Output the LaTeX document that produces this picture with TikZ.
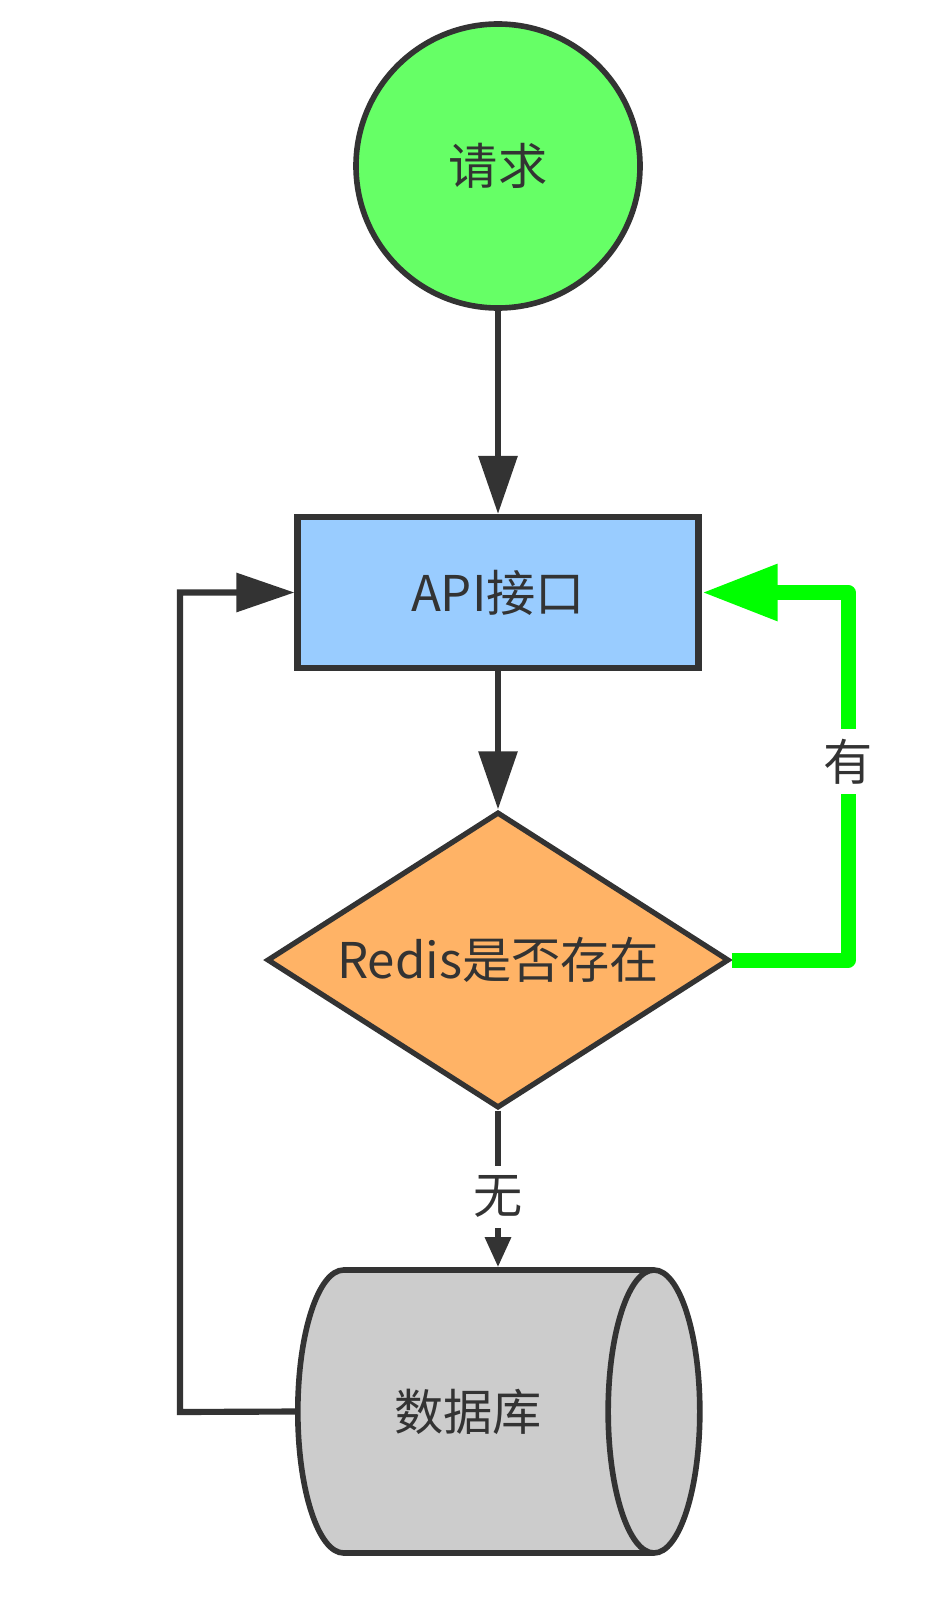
\documentclass[tikz,border=0pt]{standalone}
\usepackage{fontspec}
\setmainfont{Noto Sans CJK SC}
\usetikzlibrary{shapes.geometric,arrows.meta}
\definecolor{ink}{HTML}{333333}
\definecolor{reqgreen}{HTML}{66FF66}
\definecolor{apiblue}{HTML}{99CCFF}
\definecolor{redisorange}{HTML}{FFB366}
\definecolor{dbgray}{HTML}{CCCCCC}
\definecolor{okgreen}{HTML}{00FF00}
\begin{document}
\begin{tikzpicture}[
  every node/.style={text=ink, font=\fontsize{28}{34}\selectfont},
  link/.style={draw=ink, line width=3.5pt, -{Triangle[length=1.16cm,width=0.76cm]}},
  lbl/.style={fill=white, inner sep=0.2cm}
]
\useasboundingbox (0,0) rectangle (19,-32.24);

\node[circle, draw=ink, fill=reqgreen, line width=3.2pt, minimum size=5.68cm] (A) at (9.96,-3.32) {请求};
\node[rectangle, draw=ink, fill=apiblue, line width=3.5pt, minimum width=8.02cm, minimum height=3.02cm] (B) at (9.96,-11.85) {API接口};
\node[diamond, draw=ink, fill=redisorange, line width=3pt, aspect=1.56, minimum width=9.24cm, minimum height=5.92cm, inner sep=0pt] (C) at (9.96,-19.2) {Redis是否存在};
\node[cylinder, draw=ink, fill=dbgray, line width=3.2pt, aspect=1.6, minimum width=5.66cm, minimum height=8.04cm, anchor=west] (D) at (5.9,-28.23) {数据库};

\coordinate (G) at (16.96,-19.2);
\coordinate (L) at (3.6,-28.24);

\draw[link] (A)--(B);
\draw[link] (B)--(C);
\draw[link, -{Triangle[length=0.6cm,width=0.5cm]}] (C.south)-- node[lbl, pos=0.55]{无} (C.south |- D.north);
\draw[link, draw=okgreen, line width=0.3cm, line join=round, -{Triangle[length=1.52cm,width=1.06cm]}] (C.east)--(G) |- node[lbl, pos=0.27]{有} (B.east);
\draw[link] (D.west)--(L) |- (B.west);
\end{tikzpicture}
\end{document}
